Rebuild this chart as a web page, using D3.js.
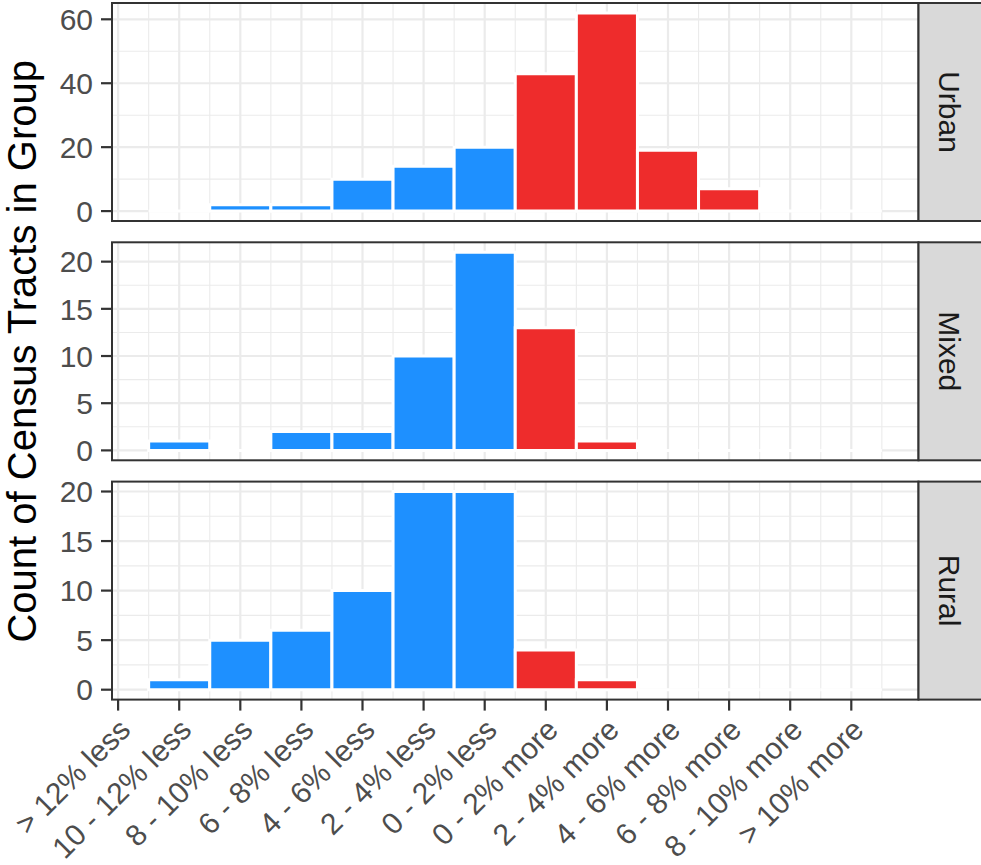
<!DOCTYPE html>
<html>
<head>
<meta charset="utf-8">
<script src="https://cdn.jsdelivr.net/npm/d3@7"></script>
<style>
  html, body { margin: 0; padding: 0; background: #ffffff; }
  svg { display: block; }
  text { font-family: "Liberation Sans", Arial, Helvetica, sans-serif; }
</style>
</head>
<body>
<svg id="chart" width="981" height="865"></svg>
<script>
// ---- data ----
const tickLabels = ["> 12% less", "10 - 12% less", "8 - 10% less", "6 - 8% less", "4 - 6% less",
  "2 - 4% less", "0 - 2% less", "0 - 2% more", "2 - 4% more", "4 - 6% more",
  "6 - 8% more", "8 - 10% more", "> 10% more"];
// histogram bins sit at tick positions 1..12
const binPositions = [1, 2, 3, 4, 5, 6, 7, 8, 9, 10, 11, 12];
const binDirection = ["less", "less", "less", "less", "less", "less", "more", "more", "more", "more", "more", "more"];
const groups = ["Urban", "Mixed", "Rural"];
const urbanCounts = [0, 2, 2, 10, 14, 20, 43, 62, 19, 7, 0, 0];
const mixedCounts = [1, 0, 2, 2, 10, 21, 13, 1, 0, 0, 0, 0];
const ruralCounts = [1, 5, 6, 10, 20, 20, 4, 1, 0, 0, 0, 0];
const urbanTicks = [0, 20, 40, 60];
const mixedTicks = [0, 5, 10, 15, 20];
const ruralTicks = [0, 5, 10, 15, 20];
const yTitle = "Count of Census Tracts in Group";
const colors = { less: "#1E90FF", more: "#EE2C2C" };

// ---- layout ----
const svg = d3.select("#chart");
const left = 112, right = 918.5, stripRight = 995;
const panelTop0 = 3, panelH = 218, panelStep = 239.3;
const grid = "#ebebeb", dark = "#333333", tickText = "#4d4d4d";

const x = d3.scaleLinear().domain([-0.1, 13.1]).range([left, right]);

const panels = [
  { name: groups[0], counts: urbanCounts, ticks: urbanTicks },
  { name: groups[1], counts: mixedCounts, ticks: mixedTicks },
  { name: groups[2], counts: ruralCounts, ticks: ruralTicks }
];

panels.forEach((p, i) => {
  const top = panelTop0 + i * panelStep;
  const bottom = top + panelH;
  const maxV = d3.max(p.counts);
  const y = d3.scaleLinear().domain([-0.05 * maxV, 1.05 * maxV]).range([bottom, top]);
  const g = svg.append("g");

  g.append("rect").attr("x", left).attr("y", top).attr("width", right - left).attr("height", panelH).attr("fill", "#fff");

  // minor grid
  const step = p.ticks[1] - p.ticks[0];
  const yMinor = p.ticks.map(t => t + step / 2)
    .filter(v => v > y.domain()[0] && v < y.domain()[1]);
  const xMinor = d3.range(0, 13).map(v => v + 0.5).filter(v => v < x.domain()[1]);
  g.selectAll(".ymin").data(yMinor).enter().append("line")
    .attr("x1", left).attr("x2", right).attr("y1", d => y(d)).attr("y2", d => y(d))
    .attr("stroke", grid).attr("stroke-width", 1.1);
  g.selectAll(".xmin").data(xMinor).enter().append("line")
    .attr("y1", top).attr("y2", bottom).attr("x1", d => x(d)).attr("x2", d => x(d))
    .attr("stroke", grid).attr("stroke-width", 1.1);
  // major grid
  g.selectAll(".ymaj").data(p.ticks).enter().append("line")
    .attr("x1", left).attr("x2", right).attr("y1", d => y(d)).attr("y2", d => y(d))
    .attr("stroke", grid).attr("stroke-width", 2.2);
  g.selectAll(".xmaj").data(tickLabels.map((d, k) => k)).enter().append("line")
    .attr("y1", top).attr("y2", bottom).attr("x1", d => x(d)).attr("x2", d => x(d))
    .attr("stroke", grid).attr("stroke-width", 2.2);

  // bars (paths so that zero-height bars still draw their white outline)
  g.selectAll(".bar").data(p.counts.map((v, k) => ({ v, pos: binPositions[k], dir: binDirection[k] })))
    .enter().append("path")
    .attr("d", d => {
      const x0 = x(d.pos - 0.5), x1 = x(d.pos + 0.5), y0 = y(0), y1 = y(d.v);
      return `M${x0},${y0}H${x1}V${y1}H${x0}Z`;
    })
    .attr("fill", d => colors[d.dir])
    .attr("stroke", "#ffffff").attr("stroke-width", 3);

  // panel border
  g.append("rect").attr("x", left).attr("y", top).attr("width", right - left).attr("height", panelH)
    .attr("fill", "none").attr("stroke", dark).attr("stroke-width", 2);

  // strip
  g.append("rect").attr("x", right).attr("y", top).attr("width", stripRight - right).attr("height", panelH)
    .attr("fill", "#d9d9d9").attr("stroke", dark).attr("stroke-width", 2);
  g.append("text")
    .attr("transform", `translate(${right + 31},${top + panelH / 2}) rotate(90)`)
    .attr("text-anchor", "middle").attr("dominant-baseline", "central")
    .attr("font-size", 30).attr("fill", "#1a1a1a").text(p.name);

  // y axis ticks and labels
  g.selectAll(".yt").data(p.ticks).enter().append("line")
    .attr("x1", left - 11).attr("x2", left).attr("y1", d => y(d)).attr("y2", d => y(d))
    .attr("stroke", dark).attr("stroke-width", 2.2);
  g.selectAll(".yl").data(p.ticks).enter().append("text")
    .attr("x", left - 19).attr("y", d => y(d)).attr("dy", "0.36em")
    .attr("text-anchor", "end").attr("font-size", 30).attr("fill", tickText)
    .text(d => d);

  // x axis on bottom panel
  if (i === panels.length - 1) {
    g.selectAll(".xt").data(tickLabels).enter().append("line")
      .attr("x1", (d, k) => x(k)).attr("x2", (d, k) => x(k))
      .attr("y1", bottom).attr("y2", bottom + 11)
      .attr("stroke", dark).attr("stroke-width", 2.2);
    g.selectAll(".xl").data(tickLabels).enter().append("text")
      .attr("transform", (d, k) => `translate(${x(k) + 14},${bottom + 32}) rotate(-45)`)
      .attr("text-anchor", "end").attr("font-size", 30).attr("fill", tickText)
      .text(d => d);
  }
});

// y axis title
svg.append("text")
  .attr("transform", `translate(36,${panelTop0 + (2 * panelStep + panelH) / 2}) rotate(-90)`)
  .attr("text-anchor", "middle").attr("font-size", 40).attr("fill", "#000")
  .text(yTitle);
</script>
</body>
</html>
